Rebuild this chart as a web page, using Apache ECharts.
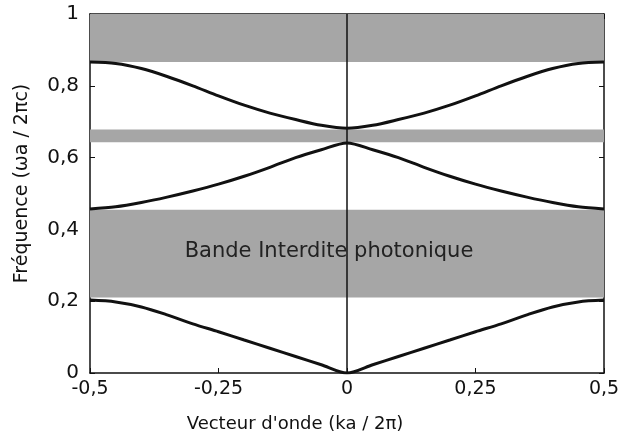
<!DOCTYPE html>
<html>
<head>
<meta charset="utf-8">
<script src="https://cdn.jsdelivr.net/npm/echarts@6/dist/echarts.min.js"></script>
<style>
  html, body { margin: 0; padding: 0; background: #fff; }
  #bandes { width: 619px; height: 443px; }
</style>
</head>
<body>
<div id="bandes"></div>
<script>
// vecteur d'onde (ka / 2pi)
const kValues = [-0.5, -0.45, -0.4, -0.35, -0.3, -0.25, -0.2, -0.15, -0.1, -0.05, 0,
  0.05, 0.1, 0.15, 0.2, 0.25, 0.3, 0.35, 0.4, 0.45, 0.5]
// frequences
const band1 = [0.203, 0.198, 0.184, 0.162, 0.137, 0.115, 0.092, 0.069, 0.046, 0.023, 0,
  0.023, 0.046, 0.069, 0.092, 0.115, 0.137, 0.162, 0.184, 0.198, 0.203]
const band2 = [0.457, 0.463, 0.475, 0.49, 0.507, 0.526, 0.548, 0.573, 0.6, 0.622, 0.641,
  0.622, 0.6, 0.573, 0.548, 0.526, 0.507, 0.49, 0.475, 0.463, 0.457]
const band3 = [0.866, 0.862, 0.848, 0.826, 0.8, 0.772, 0.746, 0.724, 0.706, 0.69, 0.682,
  0.69, 0.706, 0.724, 0.746, 0.772, 0.8, 0.826, 0.848, 0.862, 0.866]
// bandes interdites (min, max)
const gaps = [[0.21, 0.455], [0.643, 0.678], [0.866, 1]]
const gapLabel = 'Bande Interdite photonique'
const xTicks = { min: -0.5, max: 0.5, step: 0.25 }
const yTicks = { min: 0, max: 1, step: 0.2 }

const chart = echarts.init(document.getElementById('bandes'))

const comma = v => String(+v.toFixed(2)).replace('.', ',')
const pairs = arr => kValues.map((k, i) => [k, arr[i]])
const FONT = 'DejaVu Sans, Liberation Sans, sans-serif'

const lineSeries = arr => ({
  type: 'line',
  data: pairs(arr),
  smooth: 0.3,
  symbol: 'none',
  z: 5,
  lineStyle: { color: '#111', width: 3 }
})

const frame = { show: true, onZero: false, lineStyle: { color: '#111', width: 1.5 } }
const ticks = { inside: true, length: 5, lineStyle: { color: '#111' } }

const option = {
  animation: false,
  grid: { left: 90, right: 15, top: 14, bottom: 70, outerBoundsMode: 'none', containLabel: false },
  xAxis: [
    {
      type: 'value',
      min: xTicks.min,
      max: xTicks.max,
      interval: xTicks.step,
      name: "Vecteur d'onde (ka / 2\u03c0)",
      nameLocation: 'middle',
      nameGap: 42,
      nameTextStyle: { color: '#111', fontSize: 18, fontFamily: FONT, padding: [0, 104, 0, 0] },
      axisLine: frame,
      axisTick: ticks,
      axisLabel: { formatter: comma, margin: 7, color: '#111', fontSize: 19, fontFamily: FONT },
      splitLine: { show: false }
    },
    {
      type: 'value',
      position: 'top',
      min: xTicks.min,
      max: xTicks.max,
      interval: xTicks.step,
      axisLine: frame,
      axisTick: ticks,
      axisLabel: { show: false },
      splitLine: { show: false }
    }
  ],
  yAxis: [
    {
      type: 'value',
      min: yTicks.min,
      max: yTicks.max,
      interval: yTicks.step,
      name: 'Fr\u00e9quence (\u03c9a / 2\u03c0c)',
      nameLocation: 'middle',
      nameGap: 58,
      nameTextStyle: { color: '#111', fontSize: 19, fontFamily: FONT, padding: [0, 0, 0, 20] },
      axisLine: frame,
      axisTick: ticks,
      axisLabel: { formatter: comma, margin: 11, color: '#111', fontSize: 20, fontFamily: FONT },
      splitLine: { show: false }
    },
    {
      type: 'value',
      position: 'right',
      min: yTicks.min,
      max: yTicks.max,
      interval: yTicks.step,
      axisLine: frame,
      axisTick: ticks,
      axisLabel: { show: false },
      splitLine: { show: false }
    }
  ],
  series: [
    {
      type: 'line',
      data: [],
      markArea: {
        silent: true,
        itemStyle: { color: '#a6a6a6' },
        label: { show: false },
        data: gaps.map((g, i) => [
          {
            yAxis: g[0],
            label: i === 0 ? {
              show: true,
              position: 'inside',
              offset: [-18, -2],
              formatter: gapLabel,
              color: '#222',
              fontSize: 21,
              fontFamily: FONT
            } : { show: false }
          },
          { yAxis: g[1] }
        ])
      },
      markLine: {
        silent: true,
        symbol: 'none',
        label: { show: false },
        lineStyle: { color: '#111', width: 1.5, type: 'solid' },
        data: [{ xAxis: 0 }]
      }
    },
    lineSeries(band1),
    lineSeries(band2),
    lineSeries(band3)
  ]
}

chart.setOption(option)
</script>
</body>
</html>
